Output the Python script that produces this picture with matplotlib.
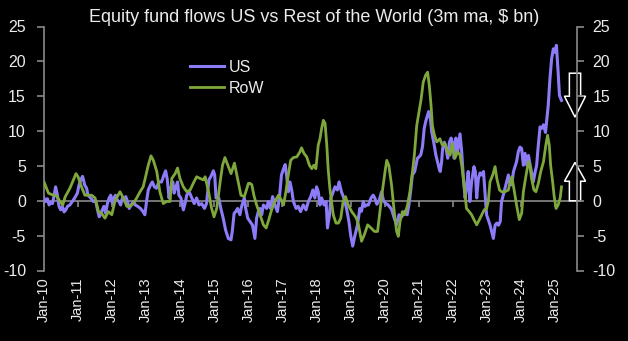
import matplotlib
matplotlib.use("Agg")
import matplotlib.pyplot as plt
from matplotlib.patches import FancyArrow
import numpy as np

plt.rcParams['font.family'] = ['Liberation Sans Narrow', 'Liberation Sans', 'DejaVu Sans']

title = "Equity fund flows US vs Rest of the World (3m ma, $ bn)"
year_labels = ["Jan-10", "Jan-11", "Jan-12", "Jan-13", "Jan-14", "Jan-15", "Jan-16", "Jan-17",
               "Jan-18", "Jan-19", "Jan-20", "Jan-21", "Jan-22", "Jan-23", "Jan-24", "Jan-25"]
year_ticks = list(range(2010, 2026))

us_x = [2010.00, 2010.05, 2010.10, 2010.15, 2010.20, 2010.25, 2010.29, 2010.34, 2010.39, 2010.44,
        2010.49, 2010.54, 2010.59, 2010.64, 2010.69, 2010.76, 2010.83, 2010.90, 2010.98, 2011.03,
        2011.08, 2011.13, 2011.16, 2011.19, 2011.25, 2011.29, 2011.37, 2011.45, 2011.52, 2011.57,
        2011.62, 2011.66, 2011.71, 2011.76, 2011.81, 2011.86, 2011.91, 2011.96, 2012.01, 2012.05,
        2012.10, 2012.15, 2012.20, 2012.25, 2012.30, 2012.35, 2012.40, 2012.45, 2012.50, 2012.56,
        2012.62, 2012.68, 2012.75, 2012.83, 2012.90, 2012.96, 2013.01, 2013.06, 2013.13, 2013.18,
        2013.24, 2013.30, 2013.37, 2013.45, 2013.52, 2013.57, 2013.62, 2013.67, 2013.72, 2013.78,
        2013.82, 2013.86, 2013.92, 2013.96, 2014.02, 2014.09, 2014.14, 2014.19, 2014.26, 2014.34,
        2014.41, 2014.48, 2014.55, 2014.63, 2014.71, 2014.77, 2014.84, 2014.90, 2014.97, 2015.01,
        2015.05, 2015.13, 2015.19, 2015.26, 2015.33, 2015.41, 2015.49, 2015.53, 2015.58, 2015.63,
        2015.68, 2015.75, 2015.80, 2015.88, 2015.92, 2015.98, 2016.05, 2016.12, 2016.19, 2016.24,
        2016.29, 2016.34, 2016.39, 2016.44, 2016.54, 2016.58, 2016.65, 2016.71, 2016.78, 2016.85,
        2016.91, 2016.97, 2017.03, 2017.08, 2017.13, 2017.17, 2017.22, 2017.27, 2017.32, 2017.40,
        2017.46, 2017.53, 2017.61, 2017.69, 2017.76, 2017.83, 2017.89, 2017.95, 2018.00, 2018.05,
        2018.10, 2018.15, 2018.22, 2018.28, 2018.32, 2018.38, 2018.42, 2018.49, 2018.54, 2018.61,
        2018.66, 2018.73, 2018.80, 2018.88, 2018.95, 2019.00, 2019.06, 2019.13, 2019.20, 2019.27,
        2019.32, 2019.37, 2019.42, 2019.47, 2019.52, 2019.60, 2019.66, 2019.71, 2019.77, 2019.84,
        2019.91, 2019.96, 2020.01, 2020.10, 2020.20, 2020.28, 2020.35, 2020.42, 2020.50, 2020.59,
        2020.66, 2020.71, 2020.76, 2020.81, 2020.88, 2020.96, 2021.01, 2021.06, 2021.11, 2021.16,
        2021.21, 2021.29, 2021.34, 2021.38, 2021.46, 2021.50, 2021.55, 2021.60, 2021.63, 2021.67,
        2021.70, 2021.75, 2021.80, 2021.85, 2021.90, 2021.95, 2022.00, 2022.04, 2022.09, 2022.14,
        2022.21, 2022.26, 2022.31, 2022.36, 2022.40, 2022.45, 2022.50, 2022.55, 2022.62, 2022.66,
        2022.70, 2022.75, 2022.80, 2022.85, 2022.90, 2022.95, 2022.99, 2023.09, 2023.14, 2023.19,
        2023.24, 2023.29, 2023.34, 2023.39, 2023.43, 2023.48, 2023.58, 2023.63, 2023.68, 2023.73,
        2023.78, 2023.87, 2023.92, 2023.97, 2024.02, 2024.07, 2024.12, 2024.17, 2024.22, 2024.27,
        2024.36, 2024.41, 2024.46, 2024.50, 2024.56, 2024.61, 2024.66, 2024.72, 2024.80, 2024.85,
        2024.90, 2024.95, 2024.99, 2025.04, 2025.09, 2025.13, 2025.19]
us_y = [0.4, -0.1, 0.3, -0.6, -0.2, -0.4, 0.6, 2.0, 0.9, -0.8,
        -1.3, -0.8, -1.6, -1.3, -0.8, -0.6, -0.1, 0.4, 1.1, 2.3,
        3.0, 3.5, 3.0, 2.3, 1.8, 0.8, 0.4, -0.1, -0.1, -1.3,
        -2.3, -2.0, -1.3, -0.8, -1.8, -0.4, 0.4, 0.8, -0.4, 0.4,
        0.8, 0.1, -0.1, -0.6, 0.4, 0.1, 0.6, -0.1, -1.1, -0.6,
        -0.1, -0.6, -0.8, -1.1, -1.5, -2.0, -0.1, 1.55, 2.3, 2.7,
        2.0, 1.8, 2.7, 2.7, 3.7, 4.3, 3.0, 0.4, 1.8, 2.7,
        1.1, 1.8, 2.7, 0.8, 0.4, -1.3, -0.4, 0.8, 1.3, 0.4,
        -0.4, 0.4, -0.6, -0.4, -1.1, -0.4, 3.0, 3.5, 4.3, 3.7,
        0.4, 0.4, -1.1, -2.5, -4.2, -5.4, -5.6, -4.2, -1.8, -1.55,
        -1.1, -2.0, -0.8, 0.4, -1.1, -2.5, -3.0, -3.5, -5.4, -2.5,
        -1.55, -1.1, -2.0, -0.6, -1.1, -0.1, -1.1, 0.6, -0.6, -1.55,
        0.4, 3.7, 4.6, 5.2, 3.2, 1.3, 2.7, 1.55, -0.1, -1.1,
        -0.8, -1.55, -0.6, -1.3, -0.1, 0.6, 1.55, 0.4, 2.0, 1.3,
        -0.6, 0.4, -0.6, -0.1, -3.9, -2.0, 0.4, 1.3, 2.0, 1.55,
        2.7, 1.3, 0.4, -1.1, -3.0, -4.9, -6.5, -4.9, -3.5, -1.1,
        -1.5, -0.1, -0.8, -0.6, -0.6, 0.4, 0.8, 0.4, -0.5, 0.1,
        1.3, 0.1, -0.3, -0.6, -1.2, -2.5, -3.45, -2.0, -2.3, -1.5,
        -2.0, -0.6, 1.3, 3.7, 4.2, 6.1, 6.3, 6.6, 7.8, 10.4,
        11.5, 12.8, 11.8, 9.9, 7.8, 6.6, 5.6, 4.6, 4.2, 5.6,
        7.5, 8.4, 7.5, 6.1, 8.4, 9.0, 8.2, 6.1, 9.0, 7.0,
        9.6, 7.0, 3.2, 0.4, 1.8, 4.2, -0.1, 2.7, 4.9, 4.2,
        0.4, 3.2, 4.0, 3.7, 4.2, 0.8, -2.0, -3.45, -4.4, -5.4,
        -3.5, -3.2, -3.5, -3.0, -0.1, 0.8, 2.7, 3.7, 2.3, 2.3,
        4.2, 5.6, 7.0, 7.7, 7.5, 5.1, 6.8, 5.1, 6.5, 5.1,
        2.7, 4.0, 5.1, 7.5, 10.6, 10.4, 10.9, 9.8, 13.7, 17.5,
        20.4, 21.8, 21.3, 22.3, 18.5, 15.1, 14.4]

row_x = [2010.00, 2010.13, 2010.27, 2010.37, 2010.47, 2010.55, 2010.62, 2010.76, 2010.94, 2011.00,
         2011.10, 2011.20, 2011.30, 2011.40, 2011.50, 2011.60, 2011.69, 2011.79, 2011.89, 2011.99,
         2012.08, 2012.23, 2012.33, 2012.43, 2012.52, 2012.62, 2012.72, 2012.82, 2012.91, 2012.96,
         2013.06, 2013.14, 2013.21, 2013.31, 2013.40, 2013.50, 2013.60, 2013.70, 2013.75, 2013.85,
         2013.92, 2013.99, 2014.09, 2014.19, 2014.29, 2014.38, 2014.48, 2014.58, 2014.68, 2014.73,
         2014.83, 2014.92, 2014.99, 2015.07, 2015.17, 2015.24, 2015.31, 2015.41, 2015.49, 2015.59,
         2015.69, 2015.78, 2015.88, 2016.00, 2016.05, 2016.10, 2016.16, 2016.24, 2016.34, 2016.44,
         2016.52, 2016.58, 2016.68, 2016.78, 2016.88, 2016.97, 2017.03, 2017.10, 2017.17, 2017.24,
         2017.32, 2017.42, 2017.51, 2017.56, 2017.63, 2017.71, 2017.79, 2017.86, 2017.92, 2017.98,
         2018.05, 2018.10, 2018.15, 2018.20, 2018.25, 2018.30, 2018.34, 2018.39, 2018.44, 2018.49,
         2018.57, 2018.64, 2018.71, 2018.78, 2018.85, 2018.93, 2019.03, 2019.10, 2019.17, 2019.23,
         2019.32, 2019.40, 2019.50, 2019.60, 2019.70, 2019.79, 2019.86, 2019.93, 2020.01, 2020.06,
         2020.12, 2020.20, 2020.28, 2020.35, 2020.40, 2020.45, 2020.52, 2020.59, 2020.67, 2020.74,
         2020.81, 2020.87, 2020.94, 2021.07, 2021.13, 2021.20, 2021.26, 2021.31, 2021.36, 2021.40,
         2021.46, 2021.53, 2021.62, 2021.69, 2021.77, 2021.85, 2021.92, 2021.98, 2022.06, 2022.14,
         2022.21, 2022.26, 2022.31, 2022.36, 2022.40, 2022.48, 2022.55, 2022.62, 2022.70, 2022.78,
         2022.85, 2022.92, 2022.99, 2023.04, 2023.09, 2023.17, 2023.24, 2023.29, 2023.37, 2023.43,
         2023.53, 2023.63, 2023.68, 2023.73, 2023.79, 2023.87, 2023.95, 2024.02, 2024.07, 2024.15,
         2024.22, 2024.26, 2024.31, 2024.38, 2024.44, 2024.51, 2024.58, 2024.66, 2024.73, 2024.78,
         2024.83, 2024.87, 2024.93, 2024.97, 2025.03, 2025.09, 2025.15, 2025.19]
row_y = [2.7, 1.1, 0.8, 0.7, -0.1, -0.6, 0.55, 1.8, 3.9, 3.45,
         2.0, 0.8, 0.8, 0.8, 0.4, -1.55, -1.8, -2.5, -1.55, -2.0,
         -0.1, 1.3, 0.4, -0.8, -0.8, -0.4, 0.4, 1.3, 2.0, 3.0,
         5.1, 6.45, 5.8, 4.2, 1.3, -0.4, -0.1, -0.1, 3.2, 3.9,
         4.7, 3.2, 2.0, 1.3, 1.55, 2.5, 3.45, 3.2, 3.0, 3.45,
         1.3, -1.1, -2.3, -1.1, 2.7, 5.1, 6.2, 4.9, 3.9, 5.4,
         3.0, 0.8, 0.6, 2.5, 2.5, 2.3, 0.8, -0.6, -2.0, -3.45,
         -3.9, -3.0, -1.3, -0.1, 0.8, 0.1, -0.6, 1.3, 3.7, 5.8,
         6.2, 6.3, 7.0, 7.6, 6.8, 6.3, 5.1, 4.6, 5.1, 4.6,
         8.0, 8.9, 10.4, 11.55, 11.1, 8.0, 4.6, 1.8, -0.1, -2.0,
         -3.2, -3.2, -2.5, -0.1, 0.6, -0.6, -1.55, -2.0, -2.5, -3.45,
         -5.8, -4.9, -3.45, -3.9, -4.4, -4.4, -1.55, 1.3, 4.2, 5.8,
         5.1, 2.3, -1.55, -4.4, -5.1, -3.0, -1.55, -2.0, -0.6, 1.3,
         3.9, 6.55, 10.8, 14.6, 17.0, 18.0, 18.45, 16.5, 13.7, 10.8,
         9.4, 8.45, 8.9, 8.0, 8.2, 7.0, 6.55, 8.2, 6.1, 7.0,
         6.6, 5.1, 3.2, 0.8, -1.1, -1.55, -2.0, -2.7, -3.45, -2.7,
         -2.0, -1.3, -1.1, -0.1, 2.7, 3.7, 4.9, 3.2, 1.55, 1.3,
         1.3, 1.55, 2.7, 3.45, 1.8, -0.6, -2.7, -1.8, 1.3, 3.7,
         5.6, 5.1, 3.2, 1.55, 1.3, 2.5, 4.2, 5.6, 8.0, 9.4,
         8.0, 5.1, 2.7, 0.8, -1.1, -0.6, 0.4, 2.0]

us_color = "#8c7cf7"
row_color = "#7fa83c"
axis_gray = "#8a8a8a"
text_col = "#ececec"

W, H = 628, 341
fig = plt.figure(figsize=(W / 100, H / 100), dpi=100, facecolor="black")
left_px, right_px, top_px, bot_px = 44, 577, 26.5, 270.5
ax = fig.add_axes([left_px / W, 1 - bot_px / H, (right_px - left_px) / W, (bot_px - top_px) / H])
ax.set_facecolor("black")

ymin, ymax = -10, 25
x0 = 2010.0
x1 = x0 + (right_px - left_px) / 34.07
ax.set_xlim(x0, x1)
ax.set_ylim(ymin, ymax)

ax.plot(us_x, us_y, color=us_color, lw=2.2, label="US", solid_joinstyle="round", zorder=3)
ax.plot(row_x, row_y, color=row_color, lw=2.0, label="RoW", solid_joinstyle="round", zorder=4)

# y axes
yt = list(range(-10, 30, 5))
ax.set_yticks(yt)
ax.set_yticklabels([str(v) for v in yt])
for s in ["top", "bottom", "right"]:
    ax.spines[s].set_visible(False)
ax.spines["left"].set_color(axis_gray)
ax.spines["left"].set_linewidth(1.2)
ax.tick_params(axis="y", colors=axis_gray, labelcolor=text_col, labelsize=11.5,
               length=5, width=1.2, direction="out", pad=8)

ax2 = ax.twinx()
ax2.set_ylim(ymin, ymax)
ax2.set_yticks(yt)
ax2.set_yticklabels([str(v) for v in yt])
for s in ["top", "bottom", "left"]:
    ax2.spines[s].set_visible(False)
ax2.spines["right"].set_color(axis_gray)
ax2.spines["right"].set_linewidth(1.2)
ax2.tick_params(axis="y", colors=axis_gray, labelcolor=text_col, labelsize=11.5,
                length=5, width=1.2, direction="out", pad=6)

# x labels at the bottom
ax.set_xticks(year_ticks)
ax.set_xticklabels(year_labels, rotation=90)
ax.tick_params(axis="x", length=0, labelcolor=text_col, labelsize=10.5, pad=5)

# zero line with year ticks
zero_frac = (0 - ymin) / (ymax - ymin)
sec = ax.secondary_xaxis(zero_frac)
sec.set_xticks(year_ticks)
sec.set_xticklabels([])
sec.spines["bottom"].set_color(axis_gray)
sec.spines["bottom"].set_linewidth(1.2)
sec.tick_params(axis="x", colors=axis_gray, length=4, width=1.2, direction="out")

# arrows on the right
ax_x = x0 + (575 - left_px) / 34.07
for (ystart, dy, hl) in [(18.3, -6.3, 3.0), (0.0, 5.5, 2.7)]:
    arr = FancyArrow(ax_x, ystart, 0, dy, width=0.33, head_width=0.62, head_length=hl,
                     length_includes_head=True, facecolor="black", edgecolor="white",
                     lw=1.1, clip_on=False, zorder=6)
    ax.add_patch(arr)

# title
fig.text(0.5, 1 - 17.5 / H, title, ha="center", va="center", color=text_col, fontsize=13)

# legend
leg = fig.legend(loc="upper left", bbox_to_anchor=(190 / W, 1 - 60 / H), frameon=False,
                 fontsize=11.5, handlelength=2.1, handletextpad=0.3, labelspacing=0.35,
                 borderpad=0, borderaxespad=0)
for t in leg.get_texts():
    t.set_color(text_col)

fig.savefig("out.png", dpi=100, facecolor="black")
